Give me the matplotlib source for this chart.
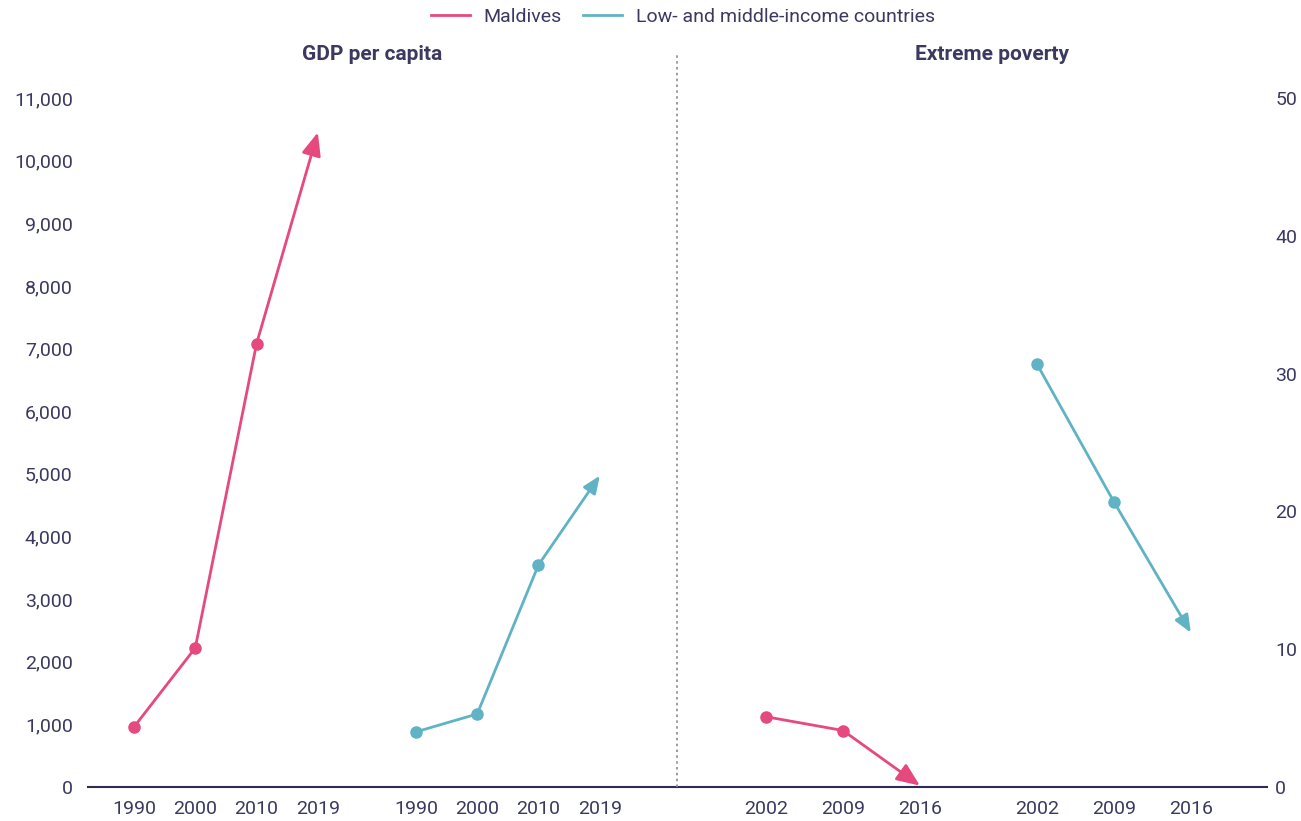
import matplotlib.pyplot as plt
import numpy as np

# =========================================================
# Données
# =========================================================

gdp_years = ["1990", "2000", "2010", "2019"]
gdp_maldives = [958, 2220, 7077, 10450]
gdp_lmic = [880, 1166, 3546, 4970]

pov_years = ["2002", "2009", "2016"]
pov_maldives = [5.1, 4.1, 0.1]
pov_lmic = [30.7, 20.7, 11.2]

gdp_ticks = list(range(0, 11001, 1000))
pov_ticks = [0, 10, 20, 30, 40, 50]

# =========================================================
# Styles
# =========================================================

PINK = "#E5497D"
TEAL = "#60B3C4"
TEXT = "#3b3960"
DARK = "#2f2b52"

plt.rcParams['font.family'] = ['Roboto', 'DejaVu Sans']

W, H = 1301, 821
fig = plt.figure(figsize=(W / 100, H / 100), dpi=100)

def px_axes(x0, x1, y0, y1):
    # positions en pixels -> fraction de la figure
    return fig.add_axes([x0 / W, (H - y1) / H, (x1 - x0) / W, (y1 - y0) / H])

ax1 = px_axes(88, 677, 98, 787)
ax2 = px_axes(677, 1267, 98, 787)

def serie(ax, xs, ys, color, head):
    ax.plot(xs[:-1], ys[:-1], color=color, lw=2, marker='o', ms=8,
            clip_on=False, zorder=3)
    ax.annotate("", xy=(xs[-1], ys[-1]), xytext=(xs[-2], ys[-2]),
                arrowprops=dict(arrowstyle=f"-|>,head_length={head},head_width={head * 0.42}",
                                color=color, lw=2, shrinkA=0, shrinkB=0),
                annotation_clip=False, zorder=3)

# --- GDP per capita ---
x_g1 = np.arange(4)
x_g2 = np.arange(4) + 4.6
serie(ax1, x_g1, gdp_maldives, PINK, 1.4)
serie(ax1, x_g2, gdp_lmic, TEAL, 1.05)
ax1.set_xlim(-0.75, 8.86)
ax1.set_ylim(0, 11000)
ax1.set_xticks(list(x_g1) + list(x_g2))
ax1.set_xticklabels(gdp_years + gdp_years)
ax1.set_yticks(gdp_ticks)
ax1.set_yticklabels([f"{t:,}" for t in gdp_ticks])
ax1.tick_params(axis='y', length=0, pad=11, labelsize=14, labelcolor=TEXT)

# --- Extreme poverty ---
x_p1 = np.arange(3)
x_p2 = np.arange(3) + 3.52
serie(ax2, x_p1, pov_maldives, PINK, 1.4)
serie(ax2, x_p2, pov_lmic, TEAL, 1.05)
ax2.set_xlim(-1.156, 6.51)
ax2.set_ylim(0, 50)
ax2.set_xticks(list(x_p1) + list(x_p2))
ax2.set_xticklabels(pov_years + pov_years)
ax2.yaxis.tick_right()
ax2.set_yticks(pov_ticks)
ax2.tick_params(axis='y', length=0, pad=6, labelsize=14, labelcolor=TEXT)

for ax in (ax1, ax2):
    ax.set_facecolor("none")
    for s in ["top", "left", "right"]:
        ax.spines[s].set_visible(False)
    ax.spines["bottom"].set_color(DARK)
    ax.spines["bottom"].set_linewidth(1.5)
    ax.tick_params(axis='x', length=0, pad=9, labelsize=14, labelcolor=TEXT)

# séparateur pointillé
fig.add_artist(plt.Line2D([677 / W, 677 / W], [(H - 787) / H, (H - 52) / H],
                          color="#8a8a99", lw=1.2, linestyle=(0, (1.5, 2))))

# titres
fig.text(372 / W, 1 - 54 / H, "GDP per capita", ha="center", va="center",
         fontsize=15, fontweight="bold", color=TEXT)
fig.text(992 / W, 1 - 54 / H, "Extreme poverty", ha="center", va="center",
         fontsize=15, fontweight="bold", color=TEXT)

# légende
handles = [plt.Line2D([], [], color=PINK, lw=2),
           plt.Line2D([], [], color=TEAL, lw=2)]
leg = fig.legend(handles, ["Maldives", "Low- and middle-income countries"],
                 loc="center", bbox_to_anchor=(0.525, 1 - 17 / H), ncol=2,
                 frameon=False, fontsize=14, handlelength=2.0,
                 columnspacing=1.1, handletextpad=0.7)
for t in leg.get_texts():
    t.set_color(TEXT)

fig.savefig("out.png", dpi=100)
